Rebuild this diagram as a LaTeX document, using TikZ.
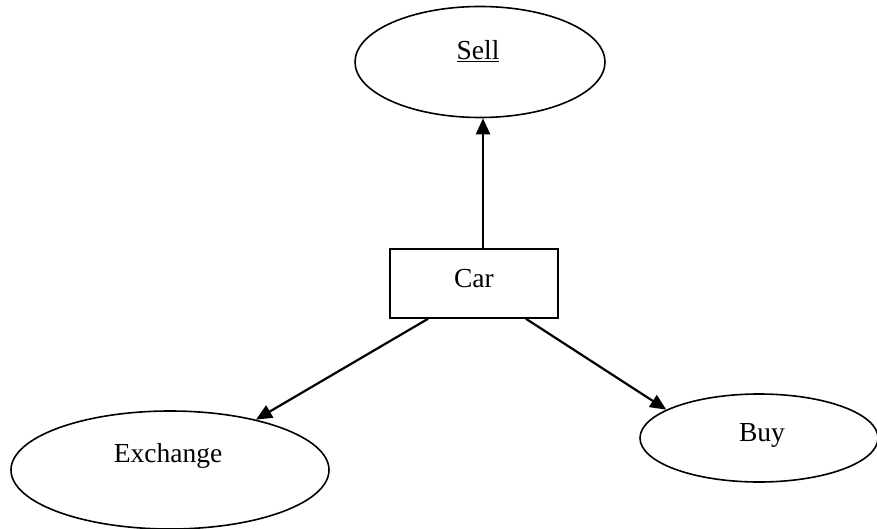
\documentclass[tikz,border=0pt]{standalone}
\usepackage{fontspec}
\setmainfont{Liberation Serif}
\usetikzlibrary{shapes.geometric,arrows.meta}
\begin{document}
\begin{tikzpicture}[x=1pt,y=-1pt,
  oval/.style={ellipse,draw,line width=1.6pt,inner sep=0pt},
  box/.style={rectangle,draw,line width=1.6pt,inner sep=0pt},
  lbl/.style={font=\fontsize{27.5}{30}\selectfont,inner sep=0pt},
  link/.style={line width=2.2pt,-{Triangle[length=16pt,width=14pt]}}]
\useasboundingbox (0,0) rectangle (877,529);

% shapes
\node[oval,minimum width=250pt,minimum height=111pt] (sell) at (480,62) {};
\node[box,minimum width=168pt,minimum height=69pt] (car) at (474,283.5) {};
\node[oval,minimum width=318pt,minimum height=118pt] (exch) at (170,470) {};
\node[oval,minimum width=238pt,minimum height=88pt] (buy) at (759,438) {};

% labels
\node[lbl] (sell-t) at (478,51) {\underline{Sell}};
\node[lbl] (car-t) at (474,279) {Car};
\node[lbl] (exch-t) at (168,456) {Exchange};
\node[lbl] (buy-t) at (762,435) {Buy};

% connectors
\coordinate (up) at ([xshift=9pt]car.north);
\coordinate (dl) at ([xshift=-46pt]car.south);
\coordinate (dr) at ([xshift=52pt]car.south);
\draw[link] (up) -- (up |- sell.south);
\draw[link] (dl) -- (exch);
\draw[link] (dr) -- (buy.163);
\end{tikzpicture}
\end{document}
